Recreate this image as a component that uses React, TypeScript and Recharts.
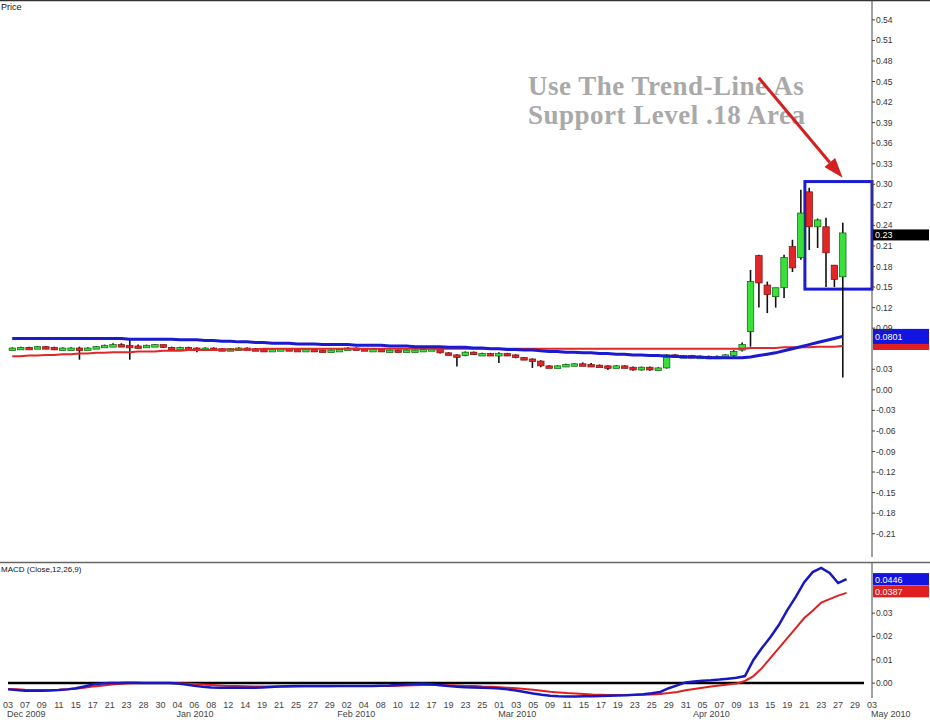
import React from 'react'
import {ComposedChart, Bar, Line, XAxis, YAxis, ReferenceLine, ReferenceArea} from 'recharts'

// trading days shown on the axis, by month
const months = [
  {year: 2009, month: 12, name: 'Dec 2009', days: [3, 4, 7, 8, 9, 10, 11, 14, 15, 16, 17, 18, 21, 22, 23, 24, 28, 29, 30, 31]},
  {year: 2010, month: 1, name: 'Jan 2010', days: [4, 5, 6, 7, 8, 11, 12, 13, 14, 15, 19, 20, 21, 22, 25, 26, 27, 28, 29]},
  {year: 2010, month: 2, name: 'Feb 2010', days: [1, 2, 3, 4, 5, 8, 9, 10, 11, 12, 16, 17, 18, 19, 22, 23, 24, 25, 26]},
  {year: 2010, month: 3, name: 'Mar 2010', days: [1, 2, 3, 4, 5, 8, 9, 10, 11, 12, 15, 16, 17, 18, 19, 22, 23, 24, 25, 26, 29, 30, 31]},
  {year: 2010, month: 4, name: 'Apr 2010', days: [1, 5, 6, 7, 8, 9, 12, 13, 14, 15, 16, 19, 20, 21, 22, 23, 26, 27, 28, 29, 30]},
  {year: 2010, month: 5, name: 'May 2010', days: [3]}
]

const opens = [
  0.060, 0.061, 0.062, 0.060, 0.063, 0.062, 0.059, 0.061, 0.061, 0.060,
  0.061, 0.063, 0.065, 0.066, 0.065, 0.064, 0.063, 0.065, 0.066, 0.062,
  0.061, 0.062, 0.061, 0.059, 0.061, 0.060, 0.059, 0.060, 0.061, 0.060,
  0.059, 0.058, 0.059, 0.060, 0.059, 0.058, 0.059, 0.058, 0.057, 0.058,
  0.059, 0.061, 0.060, 0.059, 0.059, 0.058, 0.058, 0.057, 0.058, 0.058,
  0.059, 0.060, 0.054, 0.051, 0.050, 0.055, 0.052, 0.053, 0.052, 0.053,
  0.051, 0.047, 0.045, 0.042, 0.035, 0.034, 0.035, 0.037, 0.038, 0.037,
  0.036, 0.035, 0.034, 0.035, 0.033, 0.029, 0.033, 0.029, 0.032, 0.051,
  0.049, 0.050, 0.048, 0.049, 0.048, 0.047, 0.050, 0.058, 0.085, 0.196,
  0.153, 0.136, 0.149, 0.209, 0.193, 0.289, 0.238, 0.238, 0.182, 0.165
]
const highs = [
  0.062, 0.063, 0.063, 0.064, 0.064, 0.063, 0.062, 0.062, 0.063, 0.062,
  0.064, 0.066, 0.068, 0.068, 0.073, 0.066, 0.066, 0.067, 0.066, 0.063,
  0.063, 0.063, 0.062, 0.062, 0.062, 0.061, 0.061, 0.062, 0.062, 0.061,
  0.060, 0.060, 0.061, 0.061, 0.060, 0.060, 0.060, 0.059, 0.059, 0.060,
  0.062, 0.062, 0.061, 0.060, 0.060, 0.059, 0.059, 0.059, 0.059, 0.060,
  0.061, 0.060, 0.055, 0.052, 0.056, 0.056, 0.054, 0.054, 0.055, 0.054,
  0.052, 0.048, 0.046, 0.043, 0.036, 0.036, 0.038, 0.039, 0.040, 0.039,
  0.037, 0.036, 0.036, 0.036, 0.034, 0.034, 0.034, 0.033, 0.052, 0.052,
  0.051, 0.051, 0.050, 0.050, 0.050, 0.052, 0.058, 0.069, 0.175, 0.197,
  0.158, 0.149, 0.197, 0.219, 0.292, 0.295, 0.250, 0.251, 0.182, 0.244
]
const lows = [
  0.059, 0.060, 0.060, 0.060, 0.061, 0.058, 0.058, 0.060, 0.044, 0.059,
  0.060, 0.062, 0.064, 0.064, 0.044, 0.062, 0.062, 0.063, 0.061, 0.060,
  0.060, 0.060, 0.055, 0.058, 0.059, 0.058, 0.058, 0.059, 0.059, 0.058,
  0.057, 0.057, 0.058, 0.058, 0.057, 0.057, 0.057, 0.056, 0.056, 0.057,
  0.058, 0.059, 0.058, 0.058, 0.057, 0.057, 0.056, 0.056, 0.057, 0.057,
  0.058, 0.053, 0.050, 0.034, 0.049, 0.051, 0.051, 0.051, 0.039, 0.050,
  0.046, 0.044, 0.032, 0.033, 0.033, 0.033, 0.034, 0.036, 0.036, 0.034,
  0.034, 0.029, 0.033, 0.032, 0.028, 0.028, 0.028, 0.028, 0.031, 0.048,
  0.048, 0.047, 0.047, 0.047, 0.046, 0.046, 0.048, 0.056, 0.063, 0.120,
  0.112, 0.120, 0.134, 0.172, 0.190, 0.204, 0.207, 0.150, 0.150, 0.018
]
const closes = [
  0.061, 0.062, 0.060, 0.063, 0.062, 0.059, 0.061, 0.061, 0.060, 0.061,
  0.063, 0.065, 0.066, 0.065, 0.064, 0.063, 0.065, 0.066, 0.062, 0.061,
  0.062, 0.061, 0.059, 0.061, 0.060, 0.059, 0.060, 0.061, 0.060, 0.059,
  0.058, 0.059, 0.060, 0.059, 0.058, 0.059, 0.058, 0.057, 0.058, 0.059,
  0.061, 0.060, 0.059, 0.059, 0.058, 0.058, 0.057, 0.058, 0.058, 0.059,
  0.060, 0.054, 0.051, 0.050, 0.055, 0.052, 0.053, 0.052, 0.053, 0.051,
  0.047, 0.045, 0.042, 0.035, 0.034, 0.035, 0.037, 0.038, 0.037, 0.036,
  0.035, 0.034, 0.035, 0.033, 0.029, 0.033, 0.029, 0.032, 0.051, 0.049,
  0.050, 0.048, 0.049, 0.048, 0.049, 0.051, 0.056, 0.066, 0.158, 0.156,
  0.139, 0.149, 0.193, 0.178, 0.258, 0.238, 0.248, 0.200, 0.161, 0.229
]

// moving averages on the price panel
const maBlue = [
  0.075, 0.075, 0.075, 0.075, 0.075, 0.075, 0.075, 0.075, 0.075, 0.075,
  0.075, 0.075, 0.075, 0.075, 0.074, 0.074, 0.074, 0.074, 0.074, 0.074,
  0.073, 0.073, 0.073, 0.072, 0.072, 0.071, 0.071, 0.070, 0.070, 0.069,
  0.069, 0.068, 0.068, 0.068, 0.067, 0.067, 0.067, 0.066, 0.066, 0.066,
  0.066, 0.065, 0.065, 0.065, 0.065, 0.064, 0.064, 0.064, 0.063, 0.063,
  0.063, 0.063, 0.062, 0.062, 0.062, 0.061, 0.061, 0.060, 0.060, 0.059,
  0.059, 0.058, 0.058, 0.057, 0.056, 0.056, 0.055, 0.055, 0.054, 0.054,
  0.053, 0.053, 0.052, 0.052, 0.051, 0.051, 0.050, 0.050, 0.049, 0.049,
  0.048, 0.048, 0.048, 0.047, 0.047, 0.047, 0.047, 0.047, 0.048, 0.050,
  0.052, 0.054, 0.057, 0.060, 0.063, 0.066, 0.069, 0.072, 0.075, 0.078
]
const maRed = [
  0.049, 0.049, 0.050, 0.050, 0.051, 0.051, 0.052, 0.052, 0.053, 0.053,
  0.054, 0.054, 0.055, 0.055, 0.055, 0.056, 0.056, 0.056, 0.057, 0.057,
  0.057, 0.058, 0.058, 0.058, 0.058, 0.059, 0.059, 0.059, 0.059, 0.059,
  0.060, 0.060, 0.060, 0.060, 0.060, 0.060, 0.060, 0.060, 0.060, 0.060,
  0.060, 0.060, 0.060, 0.060, 0.060, 0.060, 0.060, 0.060, 0.060, 0.060,
  0.060, 0.060, 0.060, 0.060, 0.060, 0.060, 0.060, 0.060, 0.060, 0.060,
  0.060, 0.060, 0.060, 0.060, 0.060, 0.060, 0.060, 0.060, 0.060, 0.060,
  0.060, 0.060, 0.060, 0.060, 0.060, 0.060, 0.060, 0.060, 0.060, 0.060,
  0.060, 0.060, 0.060, 0.060, 0.060, 0.060, 0.060, 0.060, 0.061, 0.061,
  0.061, 0.061, 0.062, 0.062, 0.062, 0.062, 0.063, 0.063, 0.063, 0.064
]

// MACD (Close,12,26,9)
const macdLine = [
  -0.0027, -0.003, -0.0033, -0.0033, -0.0033, -0.0032, -0.003, -0.0027, -0.0022, -0.0015,
  -0.0006, -0.0002, 0.0, 0.0, 0.0001, 0.0001, 0.0, 0.0, 0.0, 0.0,
  -0.0002, -0.0006, -0.0012, -0.0016, -0.0019, -0.002, -0.002, -0.002, -0.002, -0.002,
  -0.0019, -0.0017, -0.0015, -0.0014, -0.0013, -0.0013, -0.0013, -0.0013, -0.0013, -0.0013,
  -0.0013, -0.0013, -0.0012, -0.0012, -0.0011, -0.001, -0.0008, -0.0006, -0.0004, -0.0003,
  -0.0005, -0.0009, -0.0013, -0.0016, -0.0018, -0.0019, -0.002, -0.0021, -0.0023, -0.0027,
  -0.0032, -0.0038, -0.0045, -0.005, -0.0054, -0.0057, -0.0058, -0.0058, -0.0057, -0.0056,
  -0.0055, -0.0054, -0.0053, -0.0052, -0.005, -0.0048, -0.0044, -0.0038, -0.0022, -0.001,
  0.0003, 0.0007, 0.001, 0.0012, 0.0015, 0.0019, 0.0023, 0.003, 0.0099, 0.015,
  0.0197, 0.0249, 0.0313, 0.037, 0.0433, 0.0476, 0.0494, 0.0472, 0.0429, 0.0446
]
const signalLine = [
  -0.0025, -0.0027, -0.0029, -0.003, -0.003, -0.003, -0.0029, -0.0027, -0.0024, -0.002,
  -0.0015, -0.0011, -0.0007, -0.0004, -0.0002, -0.0001, 0.0, 0.0, 0.0, 0.0,
  -0.0001, -0.0002, -0.0004, -0.0006, -0.0008, -0.001, -0.0012, -0.0013, -0.0014, -0.0015,
  -0.0015, -0.0015, -0.0015, -0.0015, -0.0015, -0.0014, -0.0014, -0.0014, -0.0014, -0.0013,
  -0.0013, -0.0013, -0.0013, -0.0013, -0.0012, -0.0012, -0.0011, -0.001, -0.0009, -0.0008,
  -0.0008, -0.0008, -0.0009, -0.001, -0.0012, -0.0013, -0.0015, -0.0016, -0.0018, -0.002,
  -0.0022, -0.0025, -0.0029, -0.0033, -0.0037, -0.004, -0.0043, -0.0045, -0.0047, -0.0049,
  -0.005, -0.0051, -0.0051, -0.0051, -0.0051, -0.005, -0.0049, -0.0047, -0.0043, -0.0038,
  -0.0031, -0.0025, -0.002, -0.0015, -0.001, -0.0006, -0.0002, 0.0009, 0.003, 0.0064,
  0.0107, 0.015, 0.0193, 0.0236, 0.0279, 0.031, 0.0345, 0.036, 0.0375, 0.0387
]

// 0.06 sits under the moving-average price tags, 0.04 under the MACD tags
const priceTicks = [-0.21, -0.18, -0.15, -0.12, -0.09, -0.06, -0.03, 0, 0.03, 0.09, 0.12, 0.15, 0.18, 0.21, 0.24, 0.27, 0.3, 0.33, 0.36, 0.39, 0.42, 0.45, 0.48, 0.51, 0.54]
const macdTicks = [0, 0.01, 0.02, 0.03]

const lastClose = closes[closes.length - 1]
const lastBlue = maBlue[maBlue.length - 1]
const lastRed = maRed[maRed.length - 1]
const lastMacd = macdLine[macdLine.length - 1]
const lastSignal = signalLine[signalLine.length - 1]

const dates: string[] = []
const firstDays: string[] = []
const monthName: Record<string, string> = {}
const dayOf: Record<string, string> = {}
months.forEach(m => {
  m.days.forEach((d, i) => {
    const key = `${m.year}-${String(m.month).padStart(2, '0')}-${String(d).padStart(2, '0')}`
    dates.push(key)
    dayOf[key] = String(d).padStart(2, '0')
    if (i === 0) {
      firstDays.push(key)
      monthName[key] = m.name
    }
  })
})
const dayTicks = dates.filter((_, i) => i % 2 === 0)

const rows = dates.map((date, i) => ({
  date,
  open: opens[i],
  high: highs[i],
  low: lows[i],
  close: closes[i],
  maBlue: maBlue[i],
  maRed: maRed[i],
  macd: macdLine[i],
  signal: signalLine[i]
}))

const FONT = 'Liberation Sans, Arial, sans-serif'

const Candle = (props: any) => {
  const {x, y, width, height, payload} = props
  if (!payload || payload.open == null) return null
  const {open, high, low, close} = payload
  const top = Math.min(y, y + height)
  const span = high - low
  const k = span > 0 ? Math.abs(height) / span : 0
  const toY = (v: number) => top + (high - v) * k
  const cx = x + width / 2
  const up = close >= open
  const bodyTop = toY(Math.max(open, close))
  const bodyH = Math.max(2.5, toY(Math.min(open, close)) - bodyTop)
  const bw = 6.5
  return (
    <g>
      <line x1={cx} x2={cx} y1={toY(high)} y2={toY(low)} stroke='#111' strokeWidth={1.6} />
      <rect
        x={cx - bw / 2}
        y={bodyTop}
        width={bw}
        height={bodyH}
        fill={up ? '#3ae03a' : '#e02626'}
        stroke={up ? '#0b5e0b' : '#7a1010'}
        strokeWidth={0.7}
      />
    </g>
  )
}

const Tag = (props: any) => {
  const {viewBox, text, fill, h, shift = 0} = props
  if (!viewBox) return null
  const x = viewBox.x + viewBox.width
  const cy = viewBox.y + shift
  return (
    <g>
      <rect x={x + 1} y={cy - h / 2} width={56} height={h} fill={fill} />
      {text ? (
        <text x={x + 3} y={cy + 3.5} fill='#fff' fontSize={9} fontFamily={FONT}>
          {text}
        </text>
      ) : null}
    </g>
  )
}

const Arrow = (p: any) => {
  const {x1, y1, x2, y2} = p
  if (x1 == null) return null
  const a = Math.atan2(y2 - y1, x2 - x1)
  const len = 20
  const half = 7
  const bx = x2 - len * Math.cos(a)
  const by = y2 - len * Math.sin(a)
  const pts = [
    [x2, y2],
    [bx + half * Math.sin(a), by - half * Math.cos(a)],
    [bx - half * Math.sin(a), by + half * Math.cos(a)]
  ]
  return (
    <g>
      <line x1={x1} y1={y1} x2={bx} y2={by} stroke='#d42020' strokeWidth={3} />
      <polygon points={pts.map(q => q.join(',')).join(' ')} fill='#d42020' />
    </g>
  )
}

const DayTick = (props: any) => {
  const {x, y, payload} = props
  return (
    <text x={x} y={y + 10} textAnchor='middle' fontSize={9} fill='#444' fontFamily={FONT}>
      {dayOf[payload.value]}
    </text>
  )
}

const MonthTick = (props: any) => {
  const {x, y, payload} = props
  return (
    <text x={x - 1} y={y + 8} textAnchor='start' fontSize={9} fill='#444' fontFamily={FONT}>
      {monthName[payload.value]}
    </text>
  )
}

const App: React.FC = () => {
  return (
    <div style={{position: 'relative', width: 930, height: 720, background: '#fff', fontFamily: FONT, overflow: 'hidden'}}>
      <style>{'body{margin:0}'}</style>
      <svg width={930} height={720} style={{position: 'absolute', left: 0, top: 0}}>
        <line x1={0} x2={930} y1={0.5} y2={0.5} stroke='#333' strokeWidth={1.5} />
        <line x1={0} x2={930} y1={562.5} y2={562.5} stroke='#666' strokeWidth={1.5} />
        <text x={1} y={10} fontSize={9} fill='#111' fontFamily={FONT}>
          Price
        </text>
        <text x={1} y={572} fontSize={8} fill='#111' fontFamily={FONT}>
          MACD (Close,12,26,9)
        </text>
        <g fontFamily='Liberation Serif, Times New Roman, serif' fontWeight='bold' fontSize={27} fill='#a9a9a9' letterSpacing={0.5}>
          <text x={528} y={95}>Use The Trend-Line As</text>
          <text x={528} y={124}>Support Level .18 Area</text>
        </g>
      </svg>

      <div style={{position: 'absolute', left: 0, top: 0}}>
        <ComposedChart width={930} height={563} data={rows} margin={{top: 0, right: 0, bottom: 6, left: 8}}>
          <XAxis dataKey='date' hide />
          <YAxis
            orientation='right'
            width={58}
            type='number'
            domain={[-0.244, 0.569]}
            ticks={priceTicks}
            interval={0}
            allowDataOverflow
            tickFormatter={(v: number) => v.toFixed(2)}
            tick={{fontSize: 8.5, fill: '#333'}}
            tickSize={3}
            tickMargin={1}
            axisLine={{stroke: '#444'}}
            tickLine={{stroke: '#444'}}
          />
          <Line dataKey='maRed' stroke='#e02828' strokeWidth={2} dot={false} isAnimationActive={false} />
          <Line dataKey='maBlue' stroke='#1a1ad0' strokeWidth={3} dot={false} isAnimationActive={false} />
          <Bar
            dataKey={(d: any) => (d.open == null ? null : [d.low, d.high])}
            shape={Candle}
            isAnimationActive={false}
          />
          <ReferenceArea
            x1='2010-04-22'
            x2='2010-05-03'
            y1={0.147}
            y2={0.304}
            ifOverflow='visible'
            shape={(p: any) => (
              <rect x={p.x} y={p.y} width={p.width} height={p.height} fill='none' stroke='#1c1cd0' strokeWidth={3} />
            )}
          />
          <ReferenceLine
            segment={[
              {x: '2010-04-14', y: 0.4555},
              {x: '2010-04-28', y: 0.3095}
            ]}
            ifOverflow='visible'
            shape={Arrow}
          />
          <ReferenceLine y={lastRed} stroke='none' ifOverflow='visible' label={<Tag fill='#e02020' h={8} />} />
          <ReferenceLine y={lastBlue} stroke='none' ifOverflow='visible' label={<Tag text='0.0801' fill='#1414e0' h={15} />} />
          <ReferenceLine y={lastClose} stroke='none' ifOverflow='visible' label={<Tag text='0.23' fill='#000' h={11} shift={2} />} />
        </ComposedChart>
      </div>

      <div style={{position: 'absolute', left: 0, top: 563}}>
        <ComposedChart width={930} height={157} data={rows} margin={{top: 0, right: 0, bottom: 0, left: 8}}>
          <XAxis
            dataKey='date'
            ticks={dayTicks}
            interval={0}
            height={11}
            tickSize={0}
            tickMargin={0}
            axisLine={false}
            tickLine={false}
            tick={<DayTick />}
          />
          <XAxis
            xAxisId='month'
            dataKey='date'
            ticks={firstDays}
            interval={0}
            height={11}
            tickSize={0}
            tickMargin={0}
            axisLine={false}
            tickLine={false}
            tick={<MonthTick />}
          />
          <YAxis
            orientation='right'
            width={58}
            type='number'
            domain={[-0.0064, 0.0515]}
            ticks={macdTicks}
            interval={0}
            allowDataOverflow
            tickFormatter={(v: number) => v.toFixed(2)}
            tick={{fontSize: 8.5, fill: '#333'}}
            tickSize={3}
            tickMargin={1}
            axisLine={{stroke: '#444'}}
            tickLine={{stroke: '#444'}}
          />
          <ReferenceLine
            y={0}
            ifOverflow='visible'
            shape={(p: any) => <line x1={p.x1 - 8} x2={p.x2} y1={p.y1} y2={p.y2} stroke='#000' strokeWidth={2.5} />}
          />
          <Line dataKey='signal' stroke='#e02020' strokeWidth={2} dot={false} isAnimationActive={false} />
          <Line dataKey='macd' stroke='#1818c0' strokeWidth={2.5} dot={false} isAnimationActive={false} />
          <ReferenceLine y={lastMacd} stroke='none' ifOverflow='visible' label={<Tag text='0.0446' fill='#1414e0' h={12} />} />
          <ReferenceLine y={lastSignal} stroke='none' ifOverflow='visible' label={<Tag text='0.0387' fill='#e02020' h={12} shift={-1.5} />} />
        </ComposedChart>
      </div>
    </div>
  )
}

export default App
